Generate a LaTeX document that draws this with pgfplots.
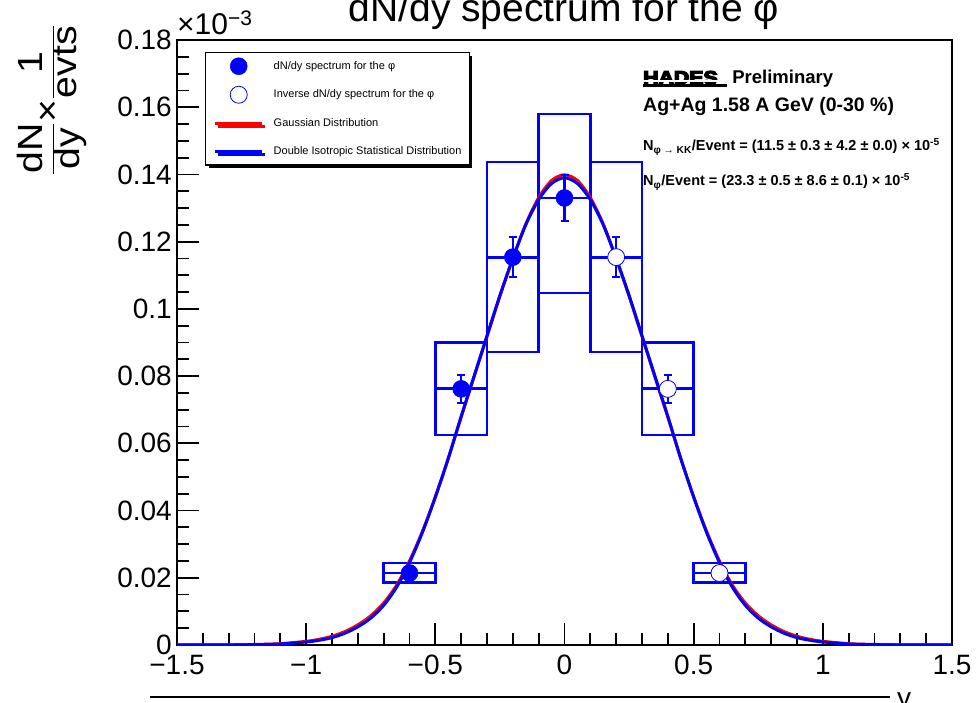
\documentclass[border=0pt]{standalone}
\usepackage{fontspec}
\setmainfont{Liberation Sans}
\newfontface\hadesface[FakeBold=7]{Liberation Sans Bold}
\usepackage{graphicx}
\usepackage{xcolor}
\usepackage{pgfplots}
\pgfplotsset{compat=1.18}
\usepackage{pgfplotstable}
\usetikzlibrary{shadows}

\definecolor{rblue}{RGB}{0,0,255}
\definecolor{rred}{RGB}{255,0,0}

\pgfplotstableread{
x y ex ey
-0.6 0.0214 0.1 0.0020
-0.4 0.0762 0.1 0.0042
-0.2 0.1154 0.1 0.0060
0.0 0.1330 0.1 0.0068
}\filledpts

\pgfplotstableread{
x y ex ey
0.2 0.1154 0.1 0.0060
0.4 0.0762 0.1 0.0042
0.6 0.0214 0.1 0.0020
}\openpts

\pgfplotstableread{
x y
-1.5 0
-1.4 0.00001
-1.3 0.00003
-1.2 0.0001
-1.1 0.0003
-1.0 0.0009
-0.95 0.0014
-0.9 0.0022
-0.85 0.0035
-0.8 0.0054
-0.75 0.0080
-0.7 0.0118
-0.65 0.0172
-0.6 0.0245
-0.55 0.0335
-0.5 0.0440
-0.45 0.0555
-0.4 0.0680
-0.35 0.0800
-0.3 0.0920
-0.25 0.1040
-0.2 0.1150
-0.15 0.1250
-0.1 0.1325
-0.05 0.1373
0 0.1390
0.05 0.1373
0.1 0.1325
0.15 0.1250
0.2 0.1150
0.25 0.1040
0.3 0.0920
0.35 0.0800
0.4 0.0680
0.45 0.0555
0.5 0.0440
0.55 0.0335
0.6 0.0245
0.65 0.0172
0.7 0.0118
0.75 0.0080
0.8 0.0054
0.85 0.0035
0.9 0.0022
0.95 0.0014
1.0 0.0009
1.1 0.0003
1.2 0.0001
1.3 0.00003
1.4 0.00001
1.5 0
}\bluecurve

\pgfplotstableread{
x y
-1.5 0
-1.4 0.00002
-1.3 0.00006
-1.2 0.00016
-1.1 0.0004
-1.0 0.0011
-0.95 0.0017
-0.9 0.0026
-0.85 0.0040
-0.8 0.0060
-0.75 0.0087
-0.7 0.0125
-0.65 0.0178
-0.6 0.0250
-0.55 0.0338
-0.5 0.0441
-0.45 0.0555
-0.4 0.0678
-0.35 0.0798
-0.3 0.0918
-0.25 0.1038
-0.2 0.1150
-0.15 0.1252
-0.1 0.1331
-0.05 0.1382
0 0.1399
0.05 0.1382
0.1 0.1331
0.15 0.1252
0.2 0.1150
0.25 0.1038
0.3 0.0918
0.35 0.0798
0.4 0.0678
0.45 0.0555
0.5 0.0441
0.55 0.0338
0.6 0.0250
0.65 0.0178
0.7 0.0125
0.75 0.0087
0.8 0.0060
0.85 0.0040
0.9 0.0026
0.95 0.0017
1.0 0.0011
1.1 0.0004
1.2 0.00016
1.3 0.00006
1.4 0.00002
1.5 0
}\redcurve

\newcommand{\hades}{\leavevmode\rlap{\scalebox{1.15}[1]{\hadesface HADES}}\rlap{\color{white}\rule[0.13em]{84pt}{0.08em}}\rule[-0.18em]{84pt}{0.2em}}

\begin{document}
\begin{tikzpicture}
\begin{axis}[
  at={(0pt,0pt)}, anchor=south west,
  width=775pt, height=605pt, scale only axis,
  xmin=-1.5, xmax=1.5, ymin=0, ymax=0.18,
  xtick={-1.5,-1,-0.5,0,0.5,1,1.5},
  xticklabels={−1.5,−1,−0.5,0,0.5,1,1.5},
  ytick={0,0.02,0.04,0.06,0.08,0.1,0.12,0.14,0.16,0.18},
  yticklabels={0,0.02,0.04,0.06,0.08,0.1,0.12,0.14,0.16,0.18},
  minor x tick num=4, minor y tick num=3,
  tick align=inside, xtick pos=left, ytick pos=left,
  major tick length=22pt, minor tick length=12pt,
  every tick/.style={black, line width=1.8pt},
  axis line style={black, line width=2.2pt},
  /pgf/number format/assume math mode=true,
  tick label style={font=\fontsize{28}{30}\selectfont},
  yticklabel style={inner sep=0pt, xshift=-5pt},
  xticklabel style={inner sep=0pt, yshift=-10pt},
  legend image code/.code={\draw[mark repeat=2,mark phase=2,#1] plot coordinates {(0pt,0pt) (23.5pt,0pt) (47pt,0pt)};},
  legend cell align=left,
  legend style={at={(0.0361,0.9802)}, anchor=north west, draw=black, line width=1.5pt, fill=white,
    font=\fontsize{11}{13}\selectfont, inner xsep=8pt, inner ysep=5pt, row sep=11.5pt, column sep=10pt,
    nodes={inner sep=0pt, minimum height=17pt},
    drop shadow={shadow xshift=3pt, shadow yshift=-3pt, fill=black, opacity=1}},
]
% systematic boxes
\addplot[rblue, line width=2.8pt, line cap=rect, forget plot] coordinates {(-0.7,0.0187) (-0.5,0.0187) (-0.5,0.0244) (-0.7,0.0244) (-0.7,0.0187)};
\addplot[rblue, line width=2.8pt, line cap=rect, forget plot] coordinates {(-0.5,0.0625) (-0.3,0.0625) (-0.3,0.0901) (-0.5,0.0901) (-0.5,0.0625)};
\addplot[rblue, line width=2.8pt, line cap=rect, forget plot] coordinates {(-0.3,0.0872) (-0.1,0.0872) (-0.1,0.1437) (-0.3,0.1437) (-0.3,0.0872)};
\addplot[rblue, line width=2.8pt, line cap=rect, forget plot] coordinates {(-0.1,0.1047) (0.1,0.1047) (0.1,0.1580) (-0.1,0.1580) (-0.1,0.1047)};
\addplot[rblue, line width=2.8pt, line cap=rect, forget plot] coordinates {(0.1,0.0872) (0.3,0.0872) (0.3,0.1437) (0.1,0.1437) (0.1,0.0872)};
\addplot[rblue, line width=2.8pt, line cap=rect, forget plot] coordinates {(0.3,0.0625) (0.5,0.0625) (0.5,0.0901) (0.3,0.0901) (0.3,0.0625)};
\addplot[rblue, line width=2.8pt, line cap=rect, forget plot] coordinates {(0.5,0.0187) (0.7,0.0187) (0.7,0.0244) (0.5,0.0244) (0.5,0.0187)};
% curves
\addplot[rred, line width=3pt, smooth, forget plot] table[x=x,y=y] {\redcurve};
\addplot[rblue, line width=3pt, smooth, forget plot] table[x=x,y=y] {\bluecurve};
% x error bars
\addplot[only marks, mark=none, forget plot, error bars/.cd, x dir=both, x explicit,
  error bar style={draw=rblue, line width=2.8pt}, error mark=none] table[x=x, y=y, x error=ex] {\filledpts};
\addplot[only marks, mark=none, forget plot, error bars/.cd, x dir=both, x explicit,
  error bar style={draw=rblue, line width=2.8pt}, error mark=none] table[x=x, y=y, x error=ex] {\openpts};
% points with stat errors
\addplot[only marks, mark=*, mark size=8.5pt, mark options={fill=rblue, draw=rblue, line width=0.5pt}, forget plot,
  error bars/.cd, y dir=both, y explicit, error bar style={draw=rblue, line width=2.5pt},
  error mark=-, error mark options={rotate=90, rblue, line width=2pt, mark size=4pt}] table[x=x, y=y, y error=ey] {\filledpts};
\addplot[only marks, mark=*, mark size=8.5pt, mark options={fill=white, draw=rblue, line width=0.8pt}, forget plot,
  error bars/.cd, y dir=both, y explicit, error bar style={draw=rblue, line width=2.5pt},
  error mark=-, error mark options={rotate=90, rblue, line width=2pt, mark size=4pt}] table[x=x, y=y, y error=ey] {\openpts};
% legend
\addlegendimage{only marks, mark=*, mark size=8.5pt, mark options={fill=rblue, draw=rblue, line width=0.5pt}}
\addlegendentry{dN/dy spectrum for the φ}
\addlegendimage{only marks, mark=*, mark size=8.5pt, mark options={fill=white, draw=rblue, line width=0.8pt}}
\addlegendentry{Inverse dN/dy spectrum for the φ}
\addlegendimage{rred, line width=3pt}
\addlegendentry{Gaussian Distribution}
\addlegendimage{rblue, line width=3pt}
\addlegendentry{Double Isotropic Statistical Distribution}
\end{axis}
% title
\node[anchor=base, font=\fontsize{39}{42}\selectfont, inner sep=0pt] at (387pt,623pt) {dN/dy spectrum for the φ};
% axis multiplier
\node[anchor=base west, font=\fontsize{30}{32}\selectfont, inner sep=0pt] at (0pt,610pt) {×10\textsuperscript{−3}};
% y label
\node[rotate=90, font=\fontsize{35}{37}\selectfont, inner sep=0pt] at (-125pt,545pt)
  {\scalebox{1.12}[1]{$\displaystyle\frac{\mbox{dN}}{\mbox{dy}}\mbox{×}\frac{\mbox{1}}{\mbox{evts}}$}};
% x label
\draw[line width=1.5pt] (-27pt,-52pt) -- (713pt,-52pt);
\node[anchor=base west, font=\fontsize{28}{30}\selectfont, inner sep=0pt] at (720pt,-62pt) {y};
% text block
\node[anchor=base west, font=\fontsize{18.5}{20}\selectfont\bfseries, inner sep=0pt] at (466pt,561pt) {\hades\ Preliminary};
\node[anchor=base west, font=\fontsize{19.5}{21}\selectfont\bfseries, inner sep=0pt] at (466pt,533pt) {Ag+Ag 1.58 A GeV (0-30 \%)};
\node[anchor=base west, font=\fontsize{14.5}{16}\selectfont\bfseries, inner sep=0pt] at (466pt,494pt) {N\textsubscript{φ → KK}/Event = (11.5 ± 0.3 ± 4.2 ± 0.0) × 10\textsuperscript{-5}};
\node[anchor=base west, font=\fontsize{14.5}{16}\selectfont\bfseries, inner sep=0pt] at (466pt,459pt) {N\textsubscript{φ}/Event = (23.3 ± 0.5 ± 8.6 ± 0.1) × 10\textsuperscript{-5}};
\pgfresetboundingbox
\path[use as bounding box] (-177pt,-57pt) rectangle (803pt,645pt);
\end{tikzpicture}
\end{document}
